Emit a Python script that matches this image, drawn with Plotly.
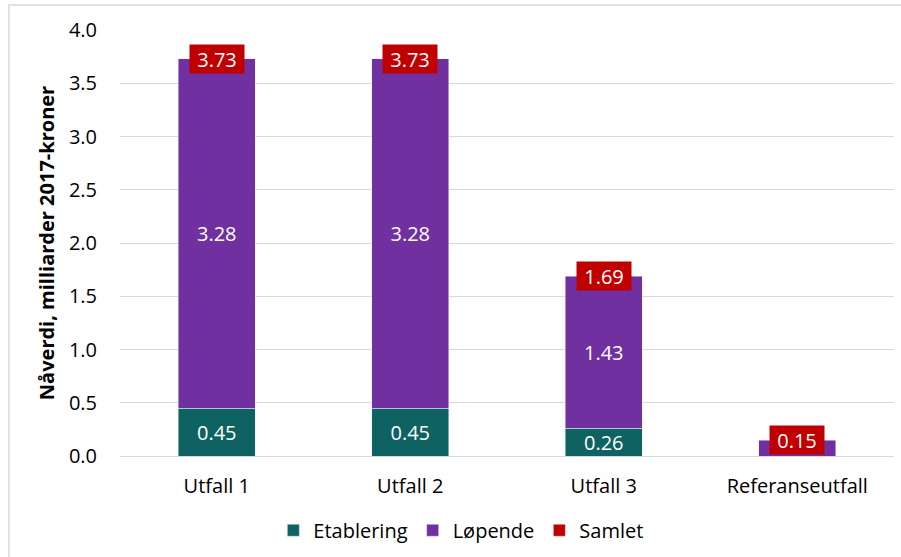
import plotly.graph_objects as go

categories = ["Utfall 1", "Utfall 2", "Utfall 3", "Referanseutfall"]
etablering = [0.45, 0.45, 0.26, 0.0]
lopende = [3.28, 3.28, 1.43, 0.15]
samlet = [3.73, 3.73, 1.69, 0.15]
etablering_labels = ["0.45", "0.45", "0.26", ""]
lopende_labels = ["3.28", "3.28", "1.43", ""]
samlet_labels = ["3.73", "3.73", "1.69", "0.15"]
y_ticks = [0.0, 0.5, 1.0, 1.5, 2.0, 2.5, 3.0, 3.5, 4.0]

FONT = "Open Sans"
C_ETAB = "#0E6261"
C_LOP = "#7030A0"
C_SAM = "#C00000"

fig = go.Figure()
fig.add_trace(go.Bar(
    name="Etablering", x=categories, y=etablering, marker_color=C_ETAB,
    text=etablering_labels, textposition="inside", insidetextanchor="middle",
    textfont=dict(color="white", size=20, family=FONT), width=0.4,
))
fig.add_trace(go.Bar(
    name="Løpende", x=categories, y=lopende, marker_color=C_LOP,
    text=lopende_labels, textposition="inside", insidetextanchor="middle",
    textfont=dict(color="white", size=20, family=FONT), width=0.4,
))
fig.add_trace(go.Bar(
    name="Samlet", x=categories, y=[None] * len(categories), marker_color=C_SAM,
    width=0.4, hoverinfo="skip",
))

for c, v, t in zip(categories, samlet, samlet_labels):
    fig.add_annotation(
        x=c, y=v, xref="x", yref="y", text=t, showarrow=False,
        yanchor="middle", xanchor="center",
        bgcolor=C_SAM, borderpad=3, width=48, height=22,
        font=dict(color="white", size=20, family=FONT),
    )

# outer chart border
fig.add_shape(type="rect", xref="paper", yref="paper",
              x0=(9 - 120) / 774, x1=(905 - 120) / 774,
              y0=(456 - 560) / 426, y1=(456 - 5) / 426,
              line=dict(color="#D9D9D9", width=1.5), fillcolor="rgba(0,0,0,0)")

fig.update_layout(
    width=901, height=557,
    barmode="stack",
    bargap=0.6,
    plot_bgcolor="white", paper_bgcolor="white",
    margin=dict(l=120, r=7, t=30, b=101),
    font=dict(family=FONT, size=20, color="black"),
    showlegend=True,
    legend=dict(orientation="h", xref="container", yref="container",
                x=0.512, y=0.048, xanchor="center", yanchor="middle",
                font=dict(size=20, family=FONT), itemwidth=30,
                traceorder="normal"),
    xaxis=dict(showgrid=False, showline=False, ticks="",
               tickfont=dict(size=20, family=FONT), ticklabelstandoff=16),
    yaxis=dict(range=[0, 4], tickvals=y_ticks,
               ticktext=[f"{v:.1f}" for v in y_ticks],
               showgrid=True, gridcolor="#D9D9D9", gridwidth=1,
               zeroline=True, zerolinecolor="#D9D9D9", zerolinewidth=1,
               showline=False, ticks="", ticklabelstandoff=22,
               tickfont=dict(size=20, family=FONT),
               title=dict(text="<b>Nåverdi, milliarder 2017-kroner</b>",
                          font=dict(size=20, family=FONT), standoff=8)),
    uniformtext=dict(minsize=20, mode="show"),
)

fig.write_html("out.html")
